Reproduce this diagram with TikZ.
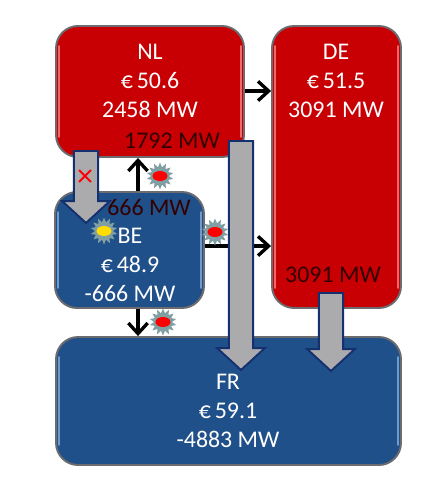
\documentclass[tikz,border=0pt]{standalone}
\usepackage{fontspec}
\setmainfont{Carlito}
\usetikzlibrary{arrows.meta,shapes.geometric,shapes.misc}

\definecolor{zonered}{HTML}{C80004}
\definecolor{zoneblue}{HTML}{20508A}
\definecolor{rimred}{HTML}{EE6A6A}
\definecolor{rimblue}{HTML}{6F9BCB}
\definecolor{edgegrey}{HTML}{6B6B70}
\definecolor{flowgrey}{HTML}{ABABAE}
\definecolor{flowedge}{HTML}{14306E}
\definecolor{burstgrey}{HTML}{7F9FA3}

\tikzset{
	zone/.style={rounded corners=0.44cm, draw=edgegrey, line width=1.1pt, inner sep=0pt},
	zonetext/.style={text=white, align=center, inner sep=0pt, font=\fontsize{13.6}{16.7}\selectfont},
	flowtext/.style={text=black!80!red, inner sep=0pt, font=\fontsize{13.6}{16.7}\selectfont},
	thinflow/.style={-{Straight Barb[length=6pt,width=11pt,line width=1.9pt]}, line width=1.9pt, black},
	flowbody/.style={fill=flowgrey, draw=flowedge, line width=1.1pt, line join=miter},
	burst/.style={star, star points=14, star point ratio=1.5, fill=burstgrey, minimum size=0.54cm, inner sep=0pt},
	spot/.style={ellipse, minimum width=0.3cm, minimum height=0.2cm, inner sep=0pt},
	rim/.style={line width=1.1pt, line cap=round}
}

% big flow arrow, from a named top to a named tip
\newcommand{\bigflow}[2]{\draw [flowbody] ([xshift=-6.9pt]#1) -- ([xshift=6.9pt]#1) -- ([xshift=6.9pt,yshift=12.5pt]#2) -- ([xshift=13.6pt,yshift=12.5pt]#2) -- (#2) -- ([xshift=-13.6pt,yshift=12.5pt]#2) -- ([xshift=-6.9pt,yshift=12.5pt]#2) -- cycle;}
% congestion mark
\newcommand{\congestion}[3]{\node [burst] (#1) at (#2) {}; \node [spot, fill=#3] (#1spot) at (#1) {};}

\begin{document}
\begin{tikzpicture}[x=0.02cm, y=-0.02cm]
	\useasboundingbox (0,0) rectangle (422,487);

	% zones
	\node [zone, fill=zonered, minimum width=3.76cm, minimum height=2.62cm] (nl) at (150,91.5) {};
	\node [zone, fill=zonered, minimum width=2.58cm, minimum height=5.64cm] (de) at (336.5,167) {};
	\node [zone, fill=zoneblue, minimum width=2.98cm, minimum height=2.32cm] (be) at (129.5,250) {};
	\node [zone, fill=zoneblue, minimum width=6.90cm, minimum height=2.56cm] (fr) at (228.5,401) {};

	% rim of the zones
	\foreach \zonename/\rimcolor in {nl/rimred, de/rimred, be/rimblue, fr/rimblue} {
		\draw [rim, \rimcolor] ([xshift=2.2pt,yshift=-12pt]\zonename.north west) -- ([xshift=2.2pt,yshift=12pt]\zonename.south west);
		\draw [rim, \rimcolor] ([xshift=-2.2pt,yshift=-12pt]\zonename.north east) -- ([xshift=-2.2pt,yshift=12pt]\zonename.south east);
	}

	% thin flows
	\coordinate (benlx) at (138,0);
	\coordinate (nldey) at (0,91);
	\coordinate (bedey) at (0,246);
	\draw [thinflow] (be.north -| benlx) -- (nl.south -| benlx);
	\draw [thinflow] (be.south -| benlx) -- (fr.north -| benlx);
	\draw [thinflow] (nl.east |- nldey) -- (de.west |- nldey);
	\draw [thinflow] (be.east |- bedey) -- (de.west |- bedey);

	% zone texts
	\node [zonetext] (nltext) at (150,81) {NL\\€\,50.6\\2458 MW};
	\node [zonetext] (detext) at (336,81) {DE\\€\,51.5\\3091 MW};
	\node [zonetext] (betext) at (130,265) {BE\\€\,48.9\\-666 MW};
	\node [zonetext] (frtext) at (228,411) {FR\\€\,59.1\\-4883 MW};

	% big flows
	\coordinate (nlbetop) at (86,151);
	\coordinate (nlbetip) at (86,223);
	\coordinate (nlfrtop) at (241,141);
	\coordinate (nlfrtip) at (241,370);
	\coordinate (defrtop) at (331,293);
	\coordinate (defrtip) at (331,371);
	\bigflow{nlbetop}{nlbetip}
	\bigflow{nlfrtop}{nlfrtip}
	\bigflow{defrtop}{defrtip}
	\node [cross out, draw=red, line width=1.1pt, minimum size=0.2cm, inner sep=0pt] (nlbecross) at (85,176) {};

	% flow texts
	\node [flowtext] (nlflow) at (172,141) {1792 MW};
	\node [flowtext] (beflow) at (149,208) {666 MW};
	\node [flowtext] (deflow) at (333,275) {3091 MW};

	% congestion marks
	\congestion{burstnl}{160,176}{red}
	\congestion{burstbe}{104,231}{yellow!80!orange}
	\congestion{burstde}{215,232}{red}
	\congestion{burstfr}{163,322}{red}
\end{tikzpicture}
\end{document}
